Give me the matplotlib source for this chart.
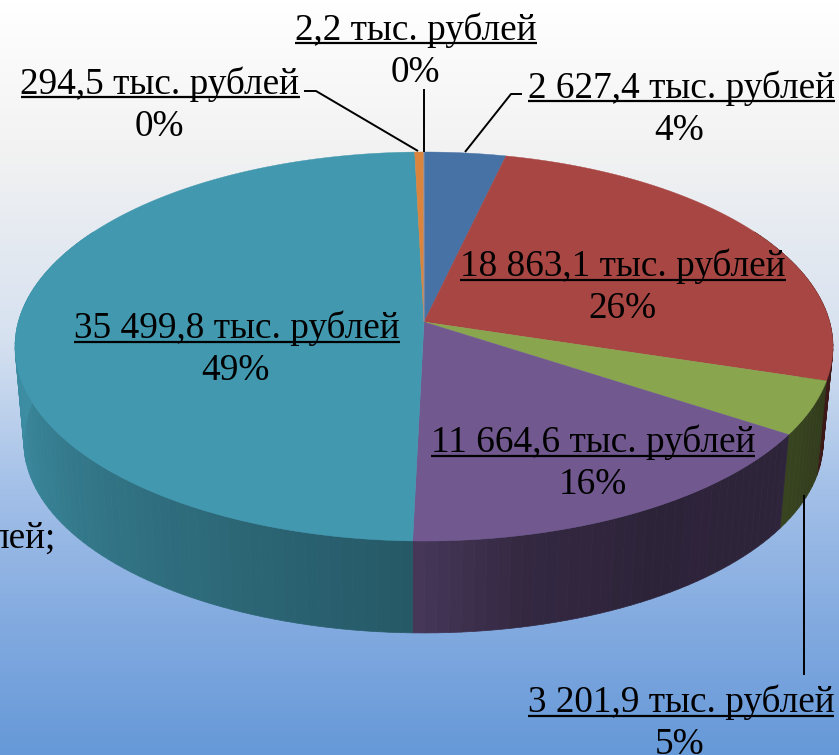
import numpy as np
import matplotlib
matplotlib.use("Agg")
import matplotlib.pyplot as plt
from matplotlib.colors import LinearSegmentedColormap, to_rgb

# ---- data ----
values = [2627.4, 18863.1, 3201.9, 11664.6, 35499.8, 294.5, 2.2]
value_labels = ["2 627,4 тыс. рублей", "18 863,1 тыс. рублей", "3 201,9 тыс. рублей",
                "11 664,6 тыс. рублей", "35 499,8 тыс. рублей", "294,5 тыс. рублей",
                "2,2 тыс. рублей"]
percent_labels = ["4%", "26%", "5%", "16%", "49%", "0%", "0%"]
colors = ["#4672A6", "#A84643", "#89A54E", "#71588F", "#4198AF", "#DB843D", "#7F9CC8"]

# label placement: centre x, name baseline y, percent centre x
label_pos = [(681, 97.5, 679), (623, 276.5, 622), (681, 712.5, 680), (593, 452.5, 593),
             (237, 338.5, 235), (160, 93.5, 159), (416, 39.5, 415)]

W, H = 839, 755
fig = plt.figure(figsize=(W / 100, H / 100), dpi=100)
ax = fig.add_axes([0, 0, 1, 1])
ax.set_xlim(0, W)
ax.set_ylim(H, 0)
ax.axis("off")

# background gradient
stops = [(0, "#FFFFFF"), (150 / H, "#F2F2F2"), (340 / H, "#D6E1F0"), (490 / H, "#A3C0E8"),
         (640 / H, "#7FA8DF"), (1, "#6699D8")]
cmap = LinearSegmentedColormap.from_list("bg", stops)
ax.imshow(np.linspace(0, 1, 755)[:, None], cmap=cmap, extent=(0, W, H, 0), aspect="auto", zorder=0)


def project(theta, cx, R, a, b, c=0.126):
    """Perspective view of a circle: theta is clockwise from the far point."""
    d = 1 + c * np.cos(theta)
    return cx + R * np.sin(theta) / d, (a * np.cos(theta) + b) / d


def top(theta):
    return project(theta, 424, 405.7, -150.85, 322)


def bottom(theta):
    return project(theta, 423.5, 396.5, -135.3, 417.9)


def shade(theta):
    return np.interp(np.degrees(theta), [60, 107, 123, 150, 168, 181, 181.01, 225, 265, 300],
                     [0.34, 0.36, 0.41, 0.40, 0.46, 0.62, 0.58, 0.76, 0.93, 0.95])


fractions = np.array(values) / sum(values)
edges = np.concatenate([[0], np.cumsum(fractions)]) * 2 * np.pi

# side wall
for start, stop, col in zip(edges[:-1], edges[1:], colors):
    lo, hi = max(start, np.radians(60)), min(stop, np.radians(300))
    if hi <= lo:
        continue
    n = max(2, int(np.degrees(hi - lo) / 1.5) + 1)
    ts = np.linspace(lo, hi, n)
    rgb = np.array(to_rgb(col))
    for t0, t1 in zip(ts[:-1], ts[1:]):
        th = np.array([t0, t1])
        x1, y1 = top(th)
        x2, y2 = bottom(th[::-1])
        fc = tuple(rgb * shade((t0 + t1) / 2))
        ax.fill(np.r_[x1, x2], np.r_[y1, y2], facecolor=fc, edgecolor=fc, lw=0.5, zorder=2)

# top face
for start, stop, col in zip(edges[:-1], edges[1:], colors):
    th = np.linspace(start, stop, max(2, int(np.degrees(stop - start)) * 2))
    x, y = top(th)
    ax.fill(np.r_[424, x], np.r_[322, y], facecolor=col, edgecolor=col, lw=0.3, zorder=3)

# leader lines
leaders = [([522, 511, 465], [94, 94, 152]),
           ([804, 804], [675, 495]),
           ([304, 316, 418], [91, 91, 151]),
           ([424, 424], [89, 152])]
for lx, ly in leaders:
    ax.plot(lx, ly, color="black", lw=1.4, zorder=4, solid_capstyle="butt")

# labels
font = dict(family="Liberation Serif", fontsize=26.8, color="black", zorder=5)
renderer = fig.canvas.get_renderer()
for name, pct, (x, b, px) in zip(value_labels, percent_labels, label_pos):
    t = ax.text(x, b, name, ha="center", va="baseline", **font)
    ext = t.get_window_extent(renderer)
    ax.plot([ext.x0, ext.x1], [b + 3.5, b + 3.5], color="black", lw=1.6, zorder=5,
            solid_capstyle="butt")
    ax.text(px, b + 42, pct, ha="center", va="baseline", **font)
ax.text(55.5, 548, "лей;", ha="right", va="baseline", **font)

fig.savefig("out.png", dpi=100)
